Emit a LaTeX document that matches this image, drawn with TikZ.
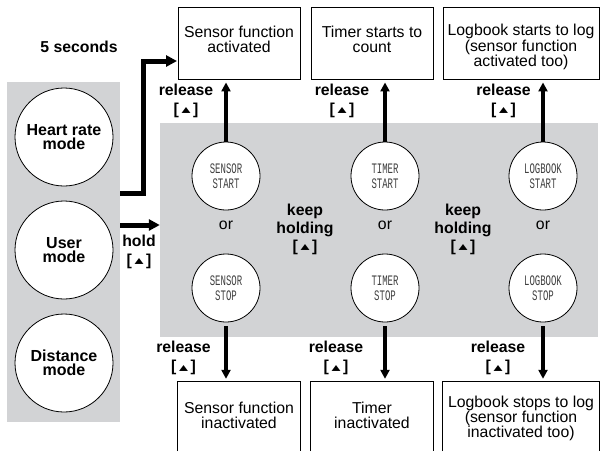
\documentclass[tikz,border=0pt]{standalone}
\usepackage{fontspec}
\usepackage{graphicx}
\setmainfont{Liberation Sans}
\newfontfamily\lcdfont[FakeStretch=0.62]{Liberation Mono}
\newfontfamily\symfont{DejaVu Sans}
\usetikzlibrary{arrows.meta}
\definecolor{panel}{RGB}{210,211,213}
\newcommand\btnsym{[\,\raisebox{1.2pt}{\resizebox{9pt}{5pt}{\symfont ▲}}\,]}
\tikzset{
  bigmode/.style={circle, draw, line width=0.8pt, fill=white, minimum size=98pt, inner sep=0pt,
    font=\bfseries\fontsize{16}{14.5}\selectfont, align=center},
  btnc/.style={circle, draw, line width=0.8pt, fill=white, minimum size=68pt, inner sep=0pt,
    font=\lcdfont\fontsize{14.5}{15}\selectfont, text=black!75, align=center},
  panelbox/.style={fill=panel, inner sep=0pt},
  boxn/.style={draw, line width=0.9pt, inner sep=0pt},
  openbox/.style={inner sep=0pt},
  txt/.style={font=\fontsize{15.8}{15.3}\selectfont, align=center, inner sep=0pt},
  lbl/.style={font=\bfseries\fontsize{15.8}{19}\selectfont, align=center, inner sep=0pt},
  keeplbl/.style={font=\bfseries\fontsize{15.8}{18}\selectfont, align=center, inner sep=0pt},
  ortxt/.style={font=\fontsize{15.8}{15}\selectfont, inner sep=0pt},
  fat/.style={line width=5pt, -{Triangle[length=11pt,width=11pt]}},
  rel/.style={line width=4pt, -{Triangle[length=9pt,width=9pt]}},
}
\begin{document}
\begin{tikzpicture}[x=1pt, y=-1pt]
\useasboundingbox (0,0) rectangle (601,451);

% panels
\node[panelbox, minimum width=113pt, minimum height=340pt] (lp) at (63.5,252) {};
\node[panelbox, minimum width=438pt, minimum height=214pt] (cp) at (379,230) {};

% mode circles
\node[bigmode] (hr) at (64,137) {Heart rate\\mode};
\node[bigmode] (um) at (64,250) {User\\mode};
\node[bigmode] (dm) at (64,363) {Distance\\mode};

% button circles
\node[btnc] (ss) at (226,176) {SENSOR\\START};
\node[btnc] (ts) at (385,176) {TIMER\\START};
\node[btnc] (ls) at (543,176) {LOGBOOK\\START};
\node[btnc] (sp) at (226,288) {SENSOR\\STOP};
\node[btnc] (tp) at (385,288) {TIMER\\STOP};
\node[btnc] (lq) at (543,288) {LOGBOOK\\STOP};

\node[ortxt] (or1) at (226,225) {or};
\node[ortxt] (or2) at (385,225) {or};
\node[ortxt] (or3) at (543,225) {or};

% top boxes
\node[boxn, minimum width=122pt, minimum height=72pt] (b1) at (239,43) {};
\node[boxn, minimum width=122pt, minimum height=72pt] (b2) at (372,43) {};
\node[boxn, minimum width=156pt, minimum height=72pt] (b3) at (521,43) {};
\node[txt] (t1) at (239,39.5) {Sensor function\\activated};
\node[txt] (t2) at (372,39.5) {Timer starts to\\count};
\node[txt] (t3) at (521,47) {Logbook starts to log\\(sensor function\\activated too)};

% bottom boxes (open at the bottom edge)
\node[openbox, minimum width=122pt, minimum height=69pt] (d1) at (239,416.5) {};
\node[openbox, minimum width=122pt, minimum height=69pt] (d2) at (372,416.5) {};
\node[openbox, minimum width=156pt, minimum height=69pt] (d3) at (521,416.5) {};
\foreach \n in {d1,d2,d3}
  \draw[line width=0.9pt] (\n.south west) -- (\n.north west) -- (\n.north east) -- (\n.south east);
\node[txt] (e1) at (239,415) {Sensor function\\inactivated};
\node[txt] (e2) at (372,415) {Timer\\inactivated};
\node[txt] (e3) at (521,418.5) {Logbook stops to log\\(sensor function\\inactivated too)};

% labels
\node[lbl] (five) at (79,47) {5 seconds};
\node[lbl] (hold) at (139,251.5) {hold\\\btnsym};
\node[lbl] (r1) at (186,100.5) {release\\\btnsym};
\node[lbl] (r2) at (342,100.5) {release\\\btnsym};
\node[lbl] (r3) at (503.5,100.5) {release\\\btnsym};
\node[lbl] (r4) at (183.5,358) {release\\\btnsym};
\node[lbl] (r5) at (336,358) {release\\\btnsym};
\node[lbl] (r6) at (498,358) {release\\\btnsym};
\node[keeplbl] (k1) at (305,229) {keep\\holding\\\btnsym};
\node[keeplbl] (k2) at (463,229) {keep\\holding\\\btnsym};

% fat arrows from the mode panel
\coordinate (a1) at (120,193);
\coordinate (a2) at (177,61);
\draw[fat] (a1) -- (143,193) |- (a2);
\coordinate (h1) at (120,225);
\draw[fat] (h1) -- (cp.west |- h1);

% release arrows
\draw[rel, shorten >=3pt] (ss.north) -- (ss.north |- b1.south);
\draw[rel, shorten >=3pt] (ts.north) -- (ts.north |- b2.south);
\draw[rel, shorten >=3pt] (ls.north) -- (ls.north |- b3.south);
\draw[rel, shorten <=4pt, shorten >=3pt] (sp.south) -- (sp.south |- d1.north);
\draw[rel, shorten <=4pt, shorten >=3pt] (tp.south) -- (tp.south |- d2.north);
\draw[rel, shorten <=4pt, shorten >=3pt] (lq.south) -- (lq.south |- d3.north);
\end{tikzpicture}
\end{document}
